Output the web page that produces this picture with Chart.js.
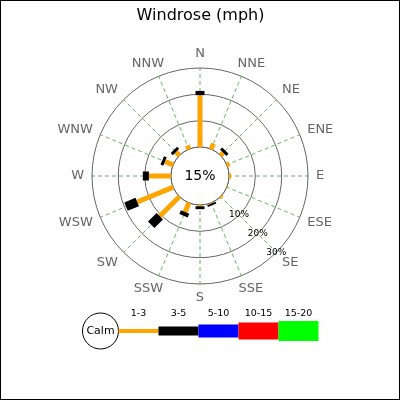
<!DOCTYPE html>
<html>
<head>
<meta charset="utf-8">
<script src="https://cdn.jsdelivr.net/npm/chart.js@4.4.0/dist/chart.umd.min.js"></script>
<style>
  html, body { margin: 0; padding: 0; background: #fff; }
  #wrap { width: 400px; height: 400px; position: relative; }
</style>
</head>
<body>
<div id="wrap"><canvas id="rose"></canvas></div>
<script>
// compass directions, clockwise from north
const directions = ['N', 'NNE', 'NE', 'ENE', 'E', 'ESE', 'SE', 'SSE', 'S', 'SSW', 'SW', 'WSW', 'W', 'WNW', 'NW', 'NNW'];
const speedBins = ['1-3', '3-5', '5-10', '10-15', '15-20'];

// percent of time per direction and speed bin (mph)
const speed1to3 = [19.7, 2.3, 1.5, 1.1, 0.8, 0.2, 0.7, 0.3, 0.5, 3.8, 10.6, 14.8, 8.4, 3.4, 1.9, 1.5];
const speed3to5 = [1.6, 0, 1.1, 0, 0, 0, 0, 0.7, 1.1, 1.5, 4.6, 4.6, 2.3, 1.1, 1.1, 0];
const speed5to10 = [0, 0, 0, 0, 0, 0, 0, 0, 0, 0, 0, 0, 0, 0, 0, 0];
const speed10to15 = [0, 0, 0, 0, 0, 0, 0, 0, 0, 0, 0, 0, 0, 0, 0, 0];
const speed15to20 = [0, 0, 0, 0, 0, 0, 0, 0, 0, 0, 0, 0, 0, 0, 0, 0];
const calmPct = 15;
const ringTicks = [0, 10, 20, 30];

const binColors = ['#ffa500', '#000000', '#0000ff', '#ff0000', '#00ff00'];
const binWidths = [5, 9, 13, 17, 20];

const series = [speed1to3, speed3to5, speed5to10, speed10to15, speed15to20];

Chart.defaults.font.family = "'DejaVu Sans', sans-serif";

// draws the stacked spokes, calm circle, ring labels, compass labels and legend
const windrose = {
    id: 'windrose',
    afterDatasetsDraw(chart) {
        const ctx = chart.ctx;
        const r = chart.scales.r;
        const xc = r.xCenter, yc = r.yCenter;
        const r0 = r.getDistanceFromCenterForValue(0);
        ctx.save();

        // calm circle
        ctx.beginPath();
        ctx.arc(xc, yc, r0, 0, Math.PI * 2);
        ctx.fillStyle = '#fff';
        ctx.fill();
        ctx.strokeStyle = '#555';
        ctx.lineWidth = 1;
        ctx.stroke();

        // spokes
        ctx.lineCap = 'butt';
        directions.forEach((d, i) => {
            let base = 0;
            chart.data.datasets.forEach((ds, k) => {
                const v = ds.data[i];
                if (v > 0) {
                    const p0 = r.getPointPositionForValue(i, base);
                    const p1 = r.getPointPositionForValue(i, base + v);
                    ctx.beginPath();
                    ctx.moveTo(p0.x, p0.y);
                    ctx.lineTo(p1.x, p1.y);
                    ctx.strokeStyle = binColors[k];
                    ctx.lineWidth = binWidths[k];
                    ctx.stroke();
                }
                base += v;
            });
        });

        ctx.fillStyle = '#000';
        ctx.textAlign = 'center';
        ctx.textBaseline = 'middle';
        ctx.font = "14px 'DejaVu Sans'";
        ctx.fillText(calmPct + '%', xc, yc);

        // ring labels along the SE spoke
        ctx.font = "9px 'DejaVu Sans'";
        ringTicks.slice(1).forEach(v => {
            const p = r.getPointPositionForValue(6, v);
            ctx.fillText(v + '%', p.x, p.y);
        });

        // compass labels
        ctx.font = "13px 'DejaVu Sans'";
        ctx.fillStyle = '#666';
        const da = r.drawingArea;
        directions.forEach((d, i) => {
            const a = i * Math.PI * 2 / directions.length;
            const s = Math.sin(a), c = Math.cos(a);
            const w = ctx.measureText(d).width;
            const y = yc - (da + 14) * c;
            if (Math.abs(s) > 0.5) {
                ctx.textAlign = s > 0 ? 'left' : 'right';
                ctx.fillText(d, xc + (da + 8) * s, y);
            } else {
                ctx.textAlign = 'center';
                const sg = Math.abs(s) < 1e-6 ? 0 : Math.sign(s);
                ctx.fillText(d, xc + (da + 14) * s + sg * w / 6, y);
            }
        });
        ctx.restore();
    },
    afterDraw(chart) {
        const ctx = chart.ctx;
        ctx.save();
        const ly = 331;
        // calm marker
        ctx.beginPath();
        ctx.arc(100.5, ly, 18, 0, Math.PI * 2);
        ctx.strokeStyle = '#000';
        ctx.lineWidth = 1;
        ctx.stroke();
        ctx.fillStyle = '#000';
        ctx.textAlign = 'center';
        ctx.textBaseline = 'middle';
        ctx.font = "11px 'DejaVu Sans'";
        ctx.fillText('Calm', 100.5, ly);

        ctx.font = "9.5px 'DejaVu Sans'";
        ctx.lineCap = 'butt';
        speedBins.forEach((b, k) => {
            const x0 = 118.5 + k * 40;
            ctx.beginPath();
            ctx.moveTo(x0, ly);
            ctx.lineTo(x0 + 40, ly);
            ctx.strokeStyle = binColors[k];
            ctx.lineWidth = binWidths[k] - (k === 0 ? 1 : 0);
            ctx.stroke();
            ctx.fillText(b, x0 + 20, 314);
        });

        ctx.strokeStyle = '#000';
        ctx.lineWidth = 1;
        ctx.strokeRect(0.5, 0.5, chart.width - 1, chart.height - 1);
        ctx.restore();
    }
};

new Chart(document.getElementById('rose'), {
    type: 'radar',
    data: {
        labels: directions,
        datasets: series.map((data, k) => ({
            label: speedBins[k],
            data: data,
            fill: false,
            showLine: false,
            backgroundColor: 'transparent',
            borderColor: 'transparent',
            pointRadius: 0,
            pointHoverRadius: 0
        }))
    },
    options: {
        responsive: true,
        maintainAspectRatio: false,
        animation: false,
        layout: {
            padding: { left: 92, right: 91, top: 0, bottom: 115 }
        },
        scales: {
            r: {
                min: -11,
                max: 30,
                afterBuildTicks: scale => {
                    scale.ticks = ringTicks.map(v => ({ value: v }));
                },
                ticks: { display: false },
                grid: { circular: true, color: '#666', lineWidth: 1 },
                angleLines: { color: 'rgba(0, 128, 0, 0.6)', borderDash: [4, 3], lineWidth: 1 },
                pointLabels: { display: false }
            }
        },
        plugins: {
            legend: { display: false },
            tooltip: { enabled: false },
            title: {
                display: true,
                text: 'Windrose (mph)',
                color: '#000',
                font: { size: 16, weight: 'normal' },
                padding: { top: 6, bottom: 43 }
            }
        }
    },
    plugins: [windrose]
});
</script>
</body>
</html>
